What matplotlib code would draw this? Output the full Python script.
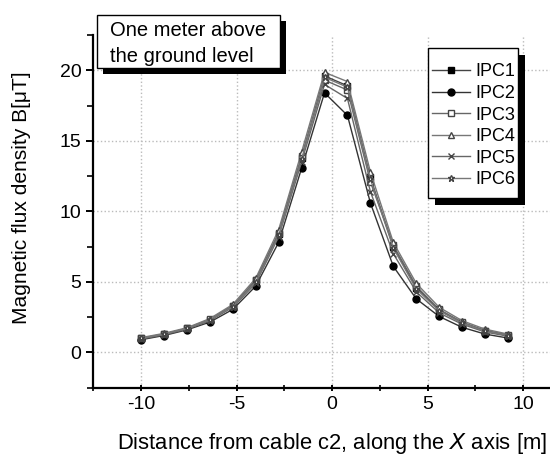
import matplotlib
matplotlib.use("Agg")
import matplotlib.pyplot as plt
from matplotlib.patches import Rectangle
from matplotlib.ticker import MultipleLocator

plt.rcParams['font.family'] = ['Liberation Sans', 'DejaVu Sans']
plt.rcParams['axes.unicode_minus'] = False

# distance along X axis [m]
x = [-10, -8.8, -7.6, -6.4, -5.2, -4.0, -2.8, -1.6, -0.4, 0.8, 2.0, 3.2, 4.4, 5.6, 6.8, 8.0, 9.2]

ipc1 = [1.00, 1.30, 1.70, 2.30, 3.30, 5.10, 8.40, 13.8, 19.6, 18.9, 12.4, 7.5, 4.6, 3.00, 2.10, 1.55, 1.20]
ipc2 = [0.90, 1.20, 1.60, 2.15, 3.05, 4.70, 7.80, 13.05, 18.4, 16.8, 10.6, 6.1, 3.8, 2.55, 1.78, 1.30, 1.02]
ipc3 = [1.00, 1.30, 1.70, 2.35, 3.30, 5.10, 8.50, 13.9, 19.3, 18.6, 12.1, 7.6, 4.7, 3.05, 2.15, 1.55, 1.25]
ipc4 = [1.05, 1.35, 1.75, 2.40, 3.40, 5.25, 8.70, 14.2, 19.85, 19.2, 12.8, 7.8, 4.9, 3.20, 2.25, 1.65, 1.30]
ipc5 = [0.95, 1.25, 1.65, 2.25, 3.20, 4.90, 8.20, 13.5, 19.0, 18.0, 11.4, 7.0, 4.3, 2.80, 2.00, 1.45, 1.15]
ipc6 = [1.00, 1.30, 1.70, 2.30, 3.25, 5.00, 8.30, 13.7, 19.5, 18.8, 12.3, 7.4, 4.5, 2.95, 2.10, 1.50, 1.20]

labels = ["IPC1", "IPC2", "IPC3", "IPC4", "IPC5", "IPC6"]
series = [ipc1, ipc2, ipc3, ipc4, ipc5, ipc6]

x_ticks = [-10, -5, 0, 5, 10]
y_ticks = [0, 5, 10, 15, 20]

W, H = 550, 457
fig = plt.figure(figsize=(W / 100, H / 100), dpi=100)
ax = fig.add_axes([93.3 / W, 1 - 387.7 / H, 1 - 93.3 / W, (387.7 - 35) / H])

styles = [
    dict(marker='s', mfc='black', mec='black', color='#444444'),
    dict(marker='o', mfc='black', mec='black', color='#333333'),
    dict(marker='s', mfc='white', mec='#444444', color='#666666'),
    dict(marker='^', mfc='white', mec='#444444', color='#777777'),
    dict(marker='x', mfc='none', mec='#444444', color='#666666'),
    dict(marker='*', mfc='white', mec='#444444', color='#777777'),
]

for s, lab, st in zip(series, labels, styles):
    ax.plot(x, s, lw=1.0, ms=5, mew=1.0, label=lab, **st)

ax.set_xlim(-12.5, 11.4)
ax.set_ylim(-2.5, 22.5)
ax.set_xticks(x_ticks)
ax.set_yticks(y_ticks)
ax.xaxis.set_minor_locator(MultipleLocator(2.5))
ax.yaxis.set_minor_locator(MultipleLocator(2.5))
ax.grid(True, which='major', linestyle=':', color='#bbbbbb', lw=1.0)
for sp in ['top', 'right']:
    ax.spines[sp].set_visible(False)
for sp in ['left', 'bottom']:
    ax.spines[sp].set_linewidth(1.6)
ax.tick_params(axis='both', which='major', labelsize=14, width=1.4, length=5)
ax.tick_params(axis='both', which='minor', width=1.2, length=4)
ax.tick_params(axis='x', which='both', direction='inout')
ax.tick_params(axis='y', which='both', direction='out')

ax.set_xlabel("Distance from cable c2, along the $\\mathit{X}$ axis [m]", fontsize=15.8)
ax.set_ylabel("Magnetic flux density B[\u03bcT]", fontsize=15.1)
ax.xaxis.set_label_coords(0.523, -0.157)
ax.xaxis.label.set_va('center')
ax.yaxis.set_label_coords(-0.157, 0.539)
ax.yaxis.label.set_va('center')
ax.yaxis.label.set_ha('center')


def fig_rect(x0, y0, x1, y1, **kw):
    # pixel box (from top-left) -> figure-fraction rectangle
    return Rectangle((x0 / W, 1 - y1 / H), (x1 - x0) / W, (y1 - y0) / H,
                     transform=fig.transFigure, clip_on=False, **kw)


# legend frame with shadow (drawn manually)
lx0, lx1, ly0, ly1 = 428, 518, 48, 198
ax.add_artist(fig_rect(lx0 + 7, ly0 + 7, lx1 + 7, ly1 + 7, facecolor='black', edgecolor='none', zorder=8))
ax.add_artist(fig_rect(lx0, ly0, lx1, ly1, facecolor='white', edgecolor='black', lw=1.0, zorder=9))

leg = ax.legend(loc='upper left', bbox_to_anchor=(432 / W, 1 - 63.5 / H),
                bbox_transform=fig.transFigure, fontsize=13, frameon=False,
                handlelength=2.1, handletextpad=0.3, labelspacing=0.25,
                borderpad=0, borderaxespad=0)
leg.set_zorder(10)

# annotation box with shadow
bx0, bx1, by0, by1 = 96.7, 280, 15, 68.3
fig.patches.append(fig_rect(bx0 + 6, by0 + 6, bx1 + 6, by1 + 6, facecolor='black', edgecolor='none', zorder=9))
fig.patches.append(fig_rect(bx0, by0, bx1, by1, facecolor='white', edgecolor='black', lw=1.0, zorder=10))
fig.text(110 / W, 1 - 31 / H, "One meter above", fontsize=14.5, va='center', ha='left', zorder=11)
fig.text(110 / W, 1 - 56 / H, "the ground level", fontsize=14.5, va='center', ha='left', zorder=11)

fig.savefig("out.png", dpi=100)
